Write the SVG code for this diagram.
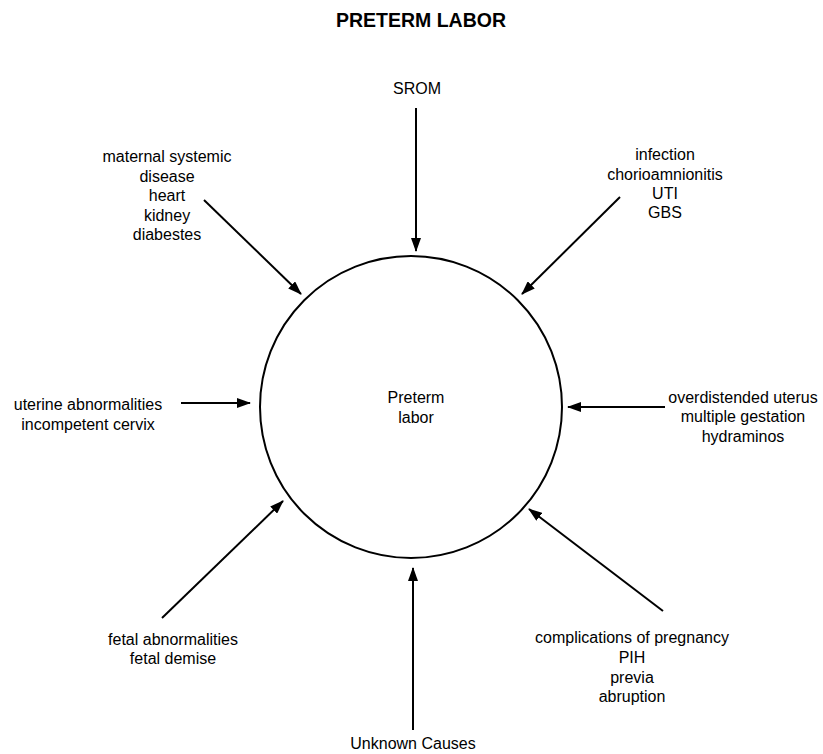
<svg xmlns="http://www.w3.org/2000/svg" width="823" height="754" viewBox="0 0 823 754">
<style>
text{font-family:"Liberation Sans",Arial,sans-serif;font-size:16px;fill:#000;text-anchor:middle}
.title{font-weight:bold;font-size:19.5px}
.c{stroke:#000;stroke-width:2;fill:none;marker-end:url(#ah)}
</style>
<defs>
<marker id="ah" markerUnits="userSpaceOnUse" markerWidth="14" markerHeight="10" viewBox="0 0 14 10" refX="13" refY="5" orient="auto">
<path d="M0,0 L14,5 L0,10 z" fill="#000"/>
</marker>
</defs>
<rect width="823" height="754" fill="#fff"/>
<text class="title" x="421" y="26.5">PRETERM LABOR</text>
<g id="center">
<circle cx="411" cy="407" r="151" fill="none" stroke="#000" stroke-width="2"/>
<text x="416" y="403">Preterm</text>
<text x="416" y="423">labor</text>
</g>
<g id="srom"><text x="417" y="94">SROM</text></g>
<g id="maternal">
<text x="167" y="162">maternal systemic</text>
<text x="167" y="182">disease</text>
<text x="167" y="201">heart</text>
<text x="167" y="221">kidney</text>
<text x="167" y="240">diabestes</text>
</g>
<g id="infection">
<text x="665" y="160">infection</text>
<text x="665" y="180">chorioamnionitis</text>
<text x="665" y="199">UTI</text>
<text x="665" y="218">GBS</text>
</g>
<g id="uterine">
<text x="88" y="410">uterine abnormalities</text>
<text x="88" y="430">incompetent cervix</text>
</g>
<g id="overdistended">
<text x="743" y="403">overdistended uterus</text>
<text x="743" y="422">multiple gestation</text>
<text x="743" y="442">hydraminos</text>
</g>
<g id="fetal">
<text x="173" y="645">fetal abnormalities</text>
<text x="173" y="664">fetal demise</text>
</g>
<g id="complications">
<text x="632" y="643">complications of pregnancy</text>
<text x="632" y="663">PIH</text>
<text x="632" y="683">previa</text>
<text x="632" y="702">abruption</text>
</g>
<g id="unknown"><text x="413" y="749">Unknown Causes</text></g>
<g id="connectors">
<line class="c" x1="416" y1="108" x2="416" y2="251"/>
<line class="c" x1="204" y1="200" x2="301" y2="294"/>
<line class="c" x1="620" y1="197" x2="522" y2="294"/>
<line class="c" x1="181" y1="403" x2="250" y2="403"/>
<line class="c" x1="665" y1="407" x2="568" y2="407"/>
<line class="c" x1="162" y1="618" x2="283" y2="501"/>
<line class="c" x1="663" y1="611" x2="529" y2="509"/>
<line class="c" x1="413" y1="730" x2="413" y2="568"/>
</g>
</svg>
